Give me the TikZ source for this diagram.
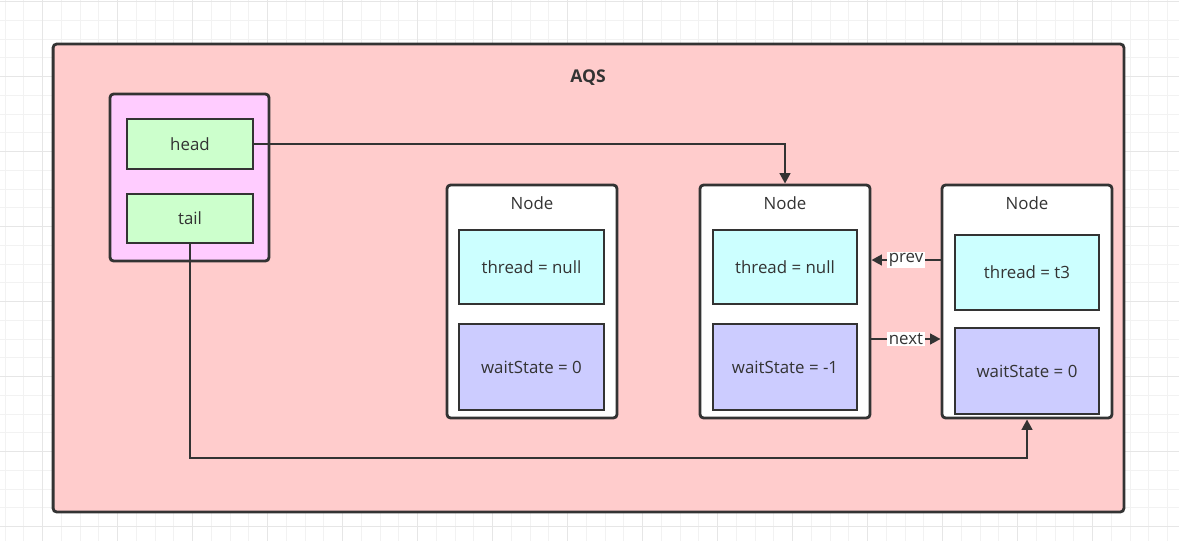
\documentclass[tikz,border=0pt]{standalone}
\usepackage{fontspec}
\setmainfont{Open Sans}
\usetikzlibrary{arrows.meta}
\definecolor{ink}{HTML}{333333}
\definecolor{aqsfill}{HTML}{FFCCCC}
\definecolor{holderfill}{HTML}{FFCCFF}
\definecolor{ptrfill}{HTML}{CCFFCC}
\definecolor{threadfill}{HTML}{CCFFFF}
\definecolor{statefill}{HTML}{CCCCFF}
\definecolor{gridminor}{HTML}{F2F2F2}
\definecolor{gridmajor}{HTML}{E6E6E6}
\tikzset{
  box/.style={draw=ink, line width=1.6pt, text=ink, inner sep=0pt},
  roundbox/.style={box, rounded corners=2pt},
  field/.style={box, font=\fontsize{9.6}{11}\selectfont},
  link/.style={draw=ink, line width=1.5pt, -{Triangle[length=6pt,width=6pt]}},
  tag/.style={fill=white, text=ink, inner sep=1pt, font=\fontsize{9.6}{11}\selectfont},
}
\begin{document}
\begin{tikzpicture}[x=0.02cm, y=-0.02cm]
\useasboundingbox (0,0) rectangle (1179,541);
\fill[white] (0,0) rectangle (1179,541);
% grid
\foreach \i in {0,...,63} \draw[gridminor, line width=0.6pt] (42.7-56.25+\i*18.75,0) -- ++(0,541);
\foreach \j in {0,...,29} \draw[gridminor, line width=0.6pt] (0,1.7+\j*18.75) -- ++(1179,0);
\foreach \i in {0,...,15} \draw[gridmajor, line width=0.8pt] (42.7+\i*75-75,0) -- ++(0,541);
\foreach \j in {0,...,7} \draw[gridmajor, line width=0.8pt] (0,1.7+\j*75) -- ++(1179,0);

\node[roundbox, fill=aqsfill, minimum width=21.42cm, minimum height=9.36cm] (aqs) at (588.5,278) {};
\node[text=ink, font=\fontsize{10}{12}\selectfont\bfseries] (aqslabel) at (588,78) {AQS};

% head / tail holder
\node[roundbox, fill=holderfill, minimum width=3.18cm, minimum height=3.34cm] (holder) at (189.5,177.5) {};
\node[field, fill=ptrfill, minimum width=2.52cm, minimum height=1cm] (head) at (190,144) {head};
\node[field, fill=ptrfill, minimum width=2.52cm, minimum height=0.98cm] (tail) at (190,218.5) {tail};

% queue nodes
\node[roundbox, fill=white, minimum width=3.4cm, minimum height=4.66cm] (node1) at (532,301.5) {};
\node[roundbox, fill=white, minimum width=3.4cm, minimum height=4.66cm] (node2) at (785,301.5) {};
\node[roundbox, fill=white, minimum width=3.4cm, minimum height=4.66cm] (node3) at (1027,301.5) {};
\node[text=ink, font=\fontsize{9.6}{11}\selectfont] (title1) at (532,203) {Node};
\node[text=ink, font=\fontsize{9.6}{11}\selectfont] (title2) at (785,203) {Node};
\node[text=ink, font=\fontsize{9.6}{11}\selectfont] (title3) at (1027,203) {Node};

\node[field, fill=threadfill, minimum width=2.9cm, minimum height=1.48cm] (thread1) at (531.5,267) {thread = null};
\node[field, fill=statefill, minimum width=2.9cm, minimum height=1.72cm] (state1) at (531.5,367) {waitState = 0};
\node[field, fill=threadfill, minimum width=2.88cm, minimum height=1.48cm] (thread2) at (785,267) {thread = null};
\node[field, fill=statefill, minimum width=2.88cm, minimum height=1.72cm] (state2) at (785,367) {waitState = -1};
\node[field, fill=threadfill, minimum width=2.88cm, minimum height=1.5cm] (thread3) at (1027,272.5) {thread = t3};
\node[field, fill=statefill, minimum width=2.88cm, minimum height=1.72cm] (state3) at (1027,371) {waitState = 0};

% pointers
\coordinate (tailturn) at (1027,458);
\draw[link] (head.east) -| (node2.north);
\draw[link] (tail.south) |- (tailturn) -- (node3.south);
\draw[link] ([yshift=0.83cm]node3.west) -- node[tag] {prev} ([yshift=0.83cm]node2.east);
\draw[link] ([yshift=-0.75cm]node2.east) -- node[tag] {next} ([yshift=-0.75cm]node3.west);
\end{tikzpicture}
\end{document}
